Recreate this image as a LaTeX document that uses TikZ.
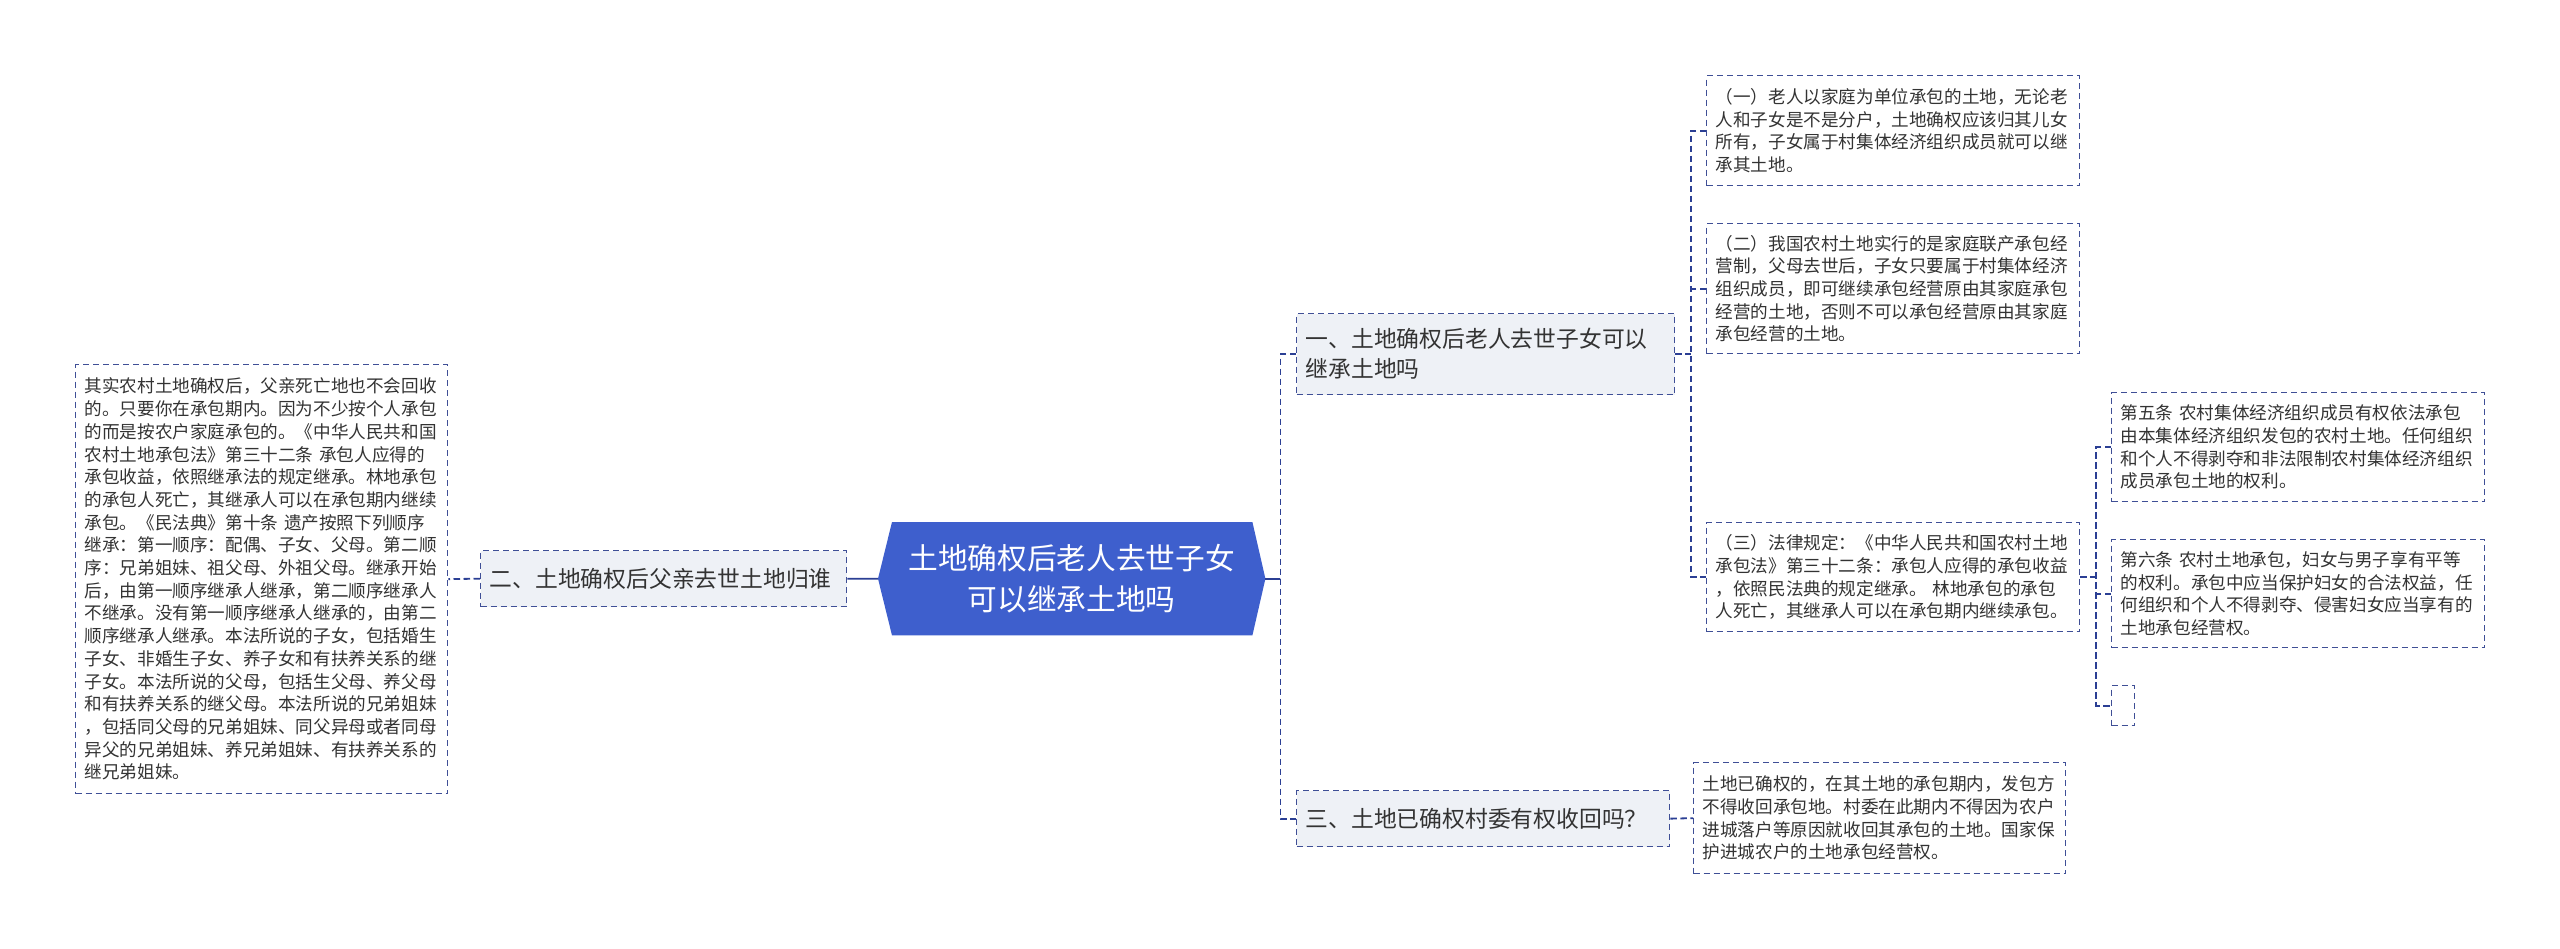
\documentclass[tikz,border=0pt]{standalone}
\usepackage{fontspec}
\setmainfont{Noto Sans CJK SC}
\usetikzlibrary{positioning,backgrounds,calc}
\definecolor{rootblue}{HTML}{3E5FCD}
\definecolor{linkblue}{HTML}{2B3F94}
\definecolor{boxline}{HTML}{3F4F96}
\definecolor{topicgray}{HTML}{EEF1F6}
\definecolor{inktext}{HTML}{333333}

\begin{document}
\begin{tikzpicture}[x=1pt,y=-1pt,
    leaf/.style={draw=boxline,line width=1.3pt,dash pattern=on 6pt off 4pt,fill=white,
      anchor=north west,align=left,inner xsep=9pt,inner ysep=0pt,text=inktext,
      font=\fontsize{17.6}{22.7}\selectfont},
    topic/.style={leaf,fill=topicgray,font=\fontsize{22.8}{30}\selectfont},
    link/.style={draw=linkblue,line width=1.8pt,dash pattern=on 6.5pt off 3.5pt},
    stem/.style={draw=linkblue,line width=1.8pt}]
            \useasboundingbox (0,0) rectangle (2560,949);
            % root
            \node[anchor=north west,minimum width=387pt,minimum height=113pt,
              align=center,text=white,font=\fontsize{29.7}{41.7}\selectfont]
            (root) at (878,522) {土地确权后老人去世子女\\可以继承土地吗};
            % left side
            \node[topic,text width=348pt,minimum height=56pt]
            (t2) at (480,550) {二、土地确权后父亲去世土地归谁};
            \node[leaf,text width=354pt,minimum height=429pt]
            (rule) at (75,364) {其实农村土地确权后，父亲死亡地也不会回收\\
              的。只要你在承包期内。因为不少按个人承包\\
              的而是按农户家庭承包的。《中华人民共和国\\
              农村土地承包法》第三十二条 承包人应得的\\
              承包收益，依照继承法的规定继承。林地承包\\
              的承包人死亡，其继承人可以在承包期内继续\\
              承包。《民法典》第十条 遗产按照下列顺序\\
              继承：第一顺序：配偶、子女、父母。第二顺\\
              序：兄弟姐妹、祖父母、外祖父母。继承开始\\
              后，由第一顺序继承人继承，第二顺序继承人\\
              不继承。没有第一顺序继承人继承的，由第二\\
              顺序继承人继承。本法所说的子女，包括婚生\\
              子女、非婚生子女、养子女和有扶养关系的继\\
              子女。本法所说的父母，包括生父母、养父母\\
              和有扶养关系的继父母。本法所说的兄弟姐妹\\
              ，包括同父母的兄弟姐妹、同父异母或者同母\\
              异父的兄弟姐妹、养兄弟姐妹、有扶养关系的\\
              继兄弟姐妹。};
            % right side
            \node[topic,text width=360pt,minimum height=81pt]
            (t1) at (1296,313) {一、土地确权后老人去世子女可以\\继承土地吗};
            \node[topic,text width=355pt,minimum height=56pt]
            (t3) at (1296,790) {三、土地已确权村委有权收回吗？};
            \node[leaf,text width=355pt,minimum height=110pt]
            (c1) at (1706,75) {（一）老人以家庭为单位承包的土地，无论老\\
              人和子女是不是分户，土地确权应该归其儿女\\
              所有，子女属于村集体经济组织成员就可以继\\
              承其土地。};
            \node[leaf,text width=355pt,minimum height=130pt,below=36.7pt of c1]
            (c2) {（二）我国农村土地实行的是家庭联产承包经\\
              营制，父母去世后，子女只要属于村集体经济\\
              组织成员，即可继续承包经营原由其家庭承包\\
              经营的土地，否则不可以承包经营原由其家庭\\
              承包经营的土地。};
            \node[leaf,text width=355pt,minimum height=109pt]
            (c3) at (1706,522) {（三）法律规定：《中华人民共和国农村土地\\
              承包法》第三十二条：承包人应得的承包收益\\
              ，依照民法典的规定继承。 林地承包的承包\\
              人死亡，其继承人可以在承包期内继续承包。};
            \node[leaf,text width=355pt,minimum height=109pt]
            (g5) at (2111,392) {第五条 农村集体经济组织成员有权依法承包\\
              由本集体经济组织发包的农村土地。任何组织\\
              和个人不得剥夺和非法限制农村集体经济组织\\
              成员承包土地的权利。};
            \node[leaf,text width=355pt,minimum height=108pt,below=36.7pt of g5]
            (g6) {第六条 农村土地承包，妇女与男子享有平等\\
              的权利。承包中应当保护妇女的合法权益，任\\
              何组织和个人不得剥夺、侵害妇女应当享有的\\
              土地承包经营权。};
            \node[leaf,inner sep=0pt,minimum width=23pt,minimum height=40pt]
            (g7) at (2111,685) {};
            \node[leaf,text width=354pt,minimum height=111pt]
            (d1) at (1693,762) {土地已确权的，在其土地的承包期内，发包方\\
              不得收回承包地。村委在此期内不得因为农户\\
              进城落户等原因就收回其承包的土地。国家保\\
              护进城农户的土地承包经营权。};
            % connectors
            \coordinate (hubR) at ($(root.east)+(15,0)$);
            \coordinate (hubT) at ($(t1.east)+(16,0)$);
            \coordinate (hubC) at ($(c3.east)+(16,0)$);
            \draw[stem] (root.west) -- (t2.east);
            \draw[link] (t2.west) -- (rule.east);
            \draw[stem] (root.east) -- (hubR);
            \draw[link] (t1.west) -| (hubR) |- (t3.west);
            \draw[link] (t1.east) -- (hubT);
            \draw[link] (c1.west) -| (hubT) |- (c3.west);
            \draw[link] (c2.west) -- (c2.west -| hubT);
            \draw[link] (c3.east) -- (hubC);
            \draw[link] (g5.west) -| (hubC) |- (g7.west);
            \draw[link] (g6.west) -- (g6.west -| hubC);
            \draw[link] (t3.east) -- (d1.west);
            \begin{scope}[on background layer]
              \fill[white] (0,0) rectangle (2560,949);
              \fill[rootblue] ($(root.north west)+(14,0)$) -- ($(root.north east)+(-13,0)$)
                -- (root.east) -- ($(root.south east)+(-13,0)$)
                -- ($(root.south west)+(14,0)$) -- (root.west) -- cycle;
            \end{scope}
        \end{tikzpicture}
\end{document}
